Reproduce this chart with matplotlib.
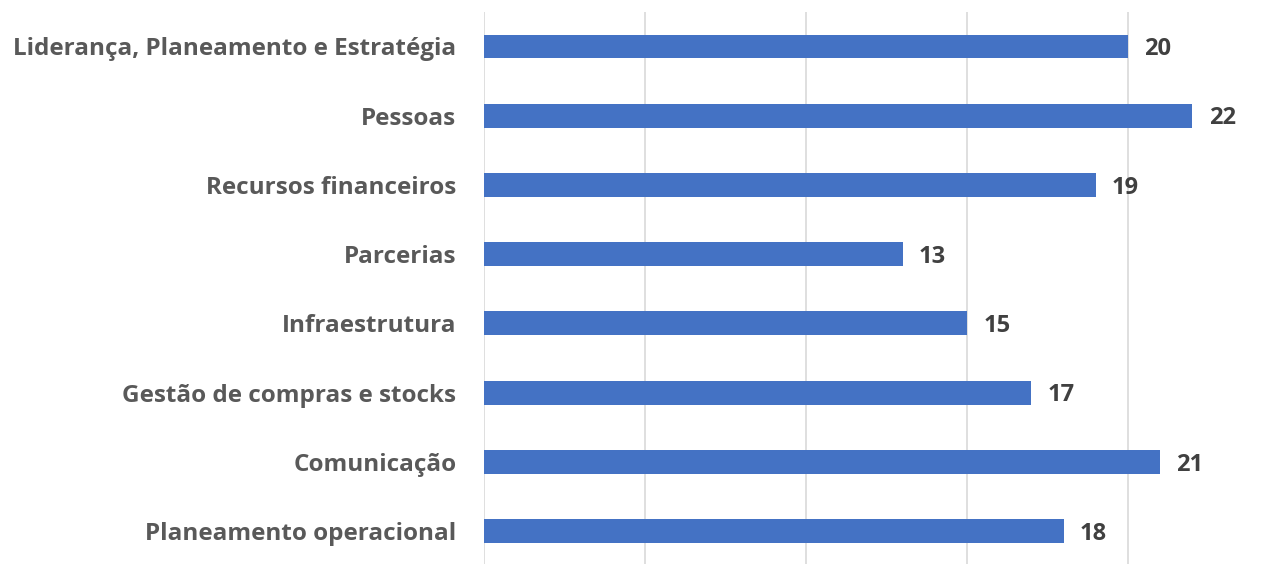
import matplotlib.pyplot as plt

# Categorias e valores (de cima para baixo)
categorias = ['Liderança, Planeamento e Estratégia', 'Pessoas', 'Recursos financeiros',
              'Parcerias', 'Infraestrutura', 'Gestão de compras e stocks',
              'Comunicação', 'Planeamento operacional']
valores = [20, 22, 19, 13, 15, 17, 21, 18]

plt.rcParams['font.family'] = ['Open Sans', 'DejaVu Sans']

fig = plt.figure(figsize=(12.71, 5.64), dpi=100)
ax = fig.add_axes([0.381, -0.009, 0.619, 0.988])

pos = list(range(len(categorias)))
ax.barh(pos, valores, height=0.345, color='#4472C4', zorder=3)

for p, v in zip(pos, valores):
    ax.text(v + 0.5, p + 0.04, str(v), va='center', ha='left', fontsize=17,
            fontweight='bold', color='#404040', zorder=4)

ax.set_yticks(pos)
ax.set_yticklabels(categorias, fontsize=17.5, fontweight='bold', color='#595959')
ax.tick_params(axis='y', length=0, pad=20)
ax.tick_params(axis='x', length=0, labelbottom=False)
ax.set_xticks([0, 5, 10, 15, 20, 25])
ax.set_xlim(0, 24.44)
ax.set_ylim(7.55, -0.5)

ax.grid(axis='x', color='#d9d9d9', linewidth=1.2, zorder=0)
for s in ax.spines.values():
    s.set_visible(False)

fig.savefig('out.png', dpi=100)
